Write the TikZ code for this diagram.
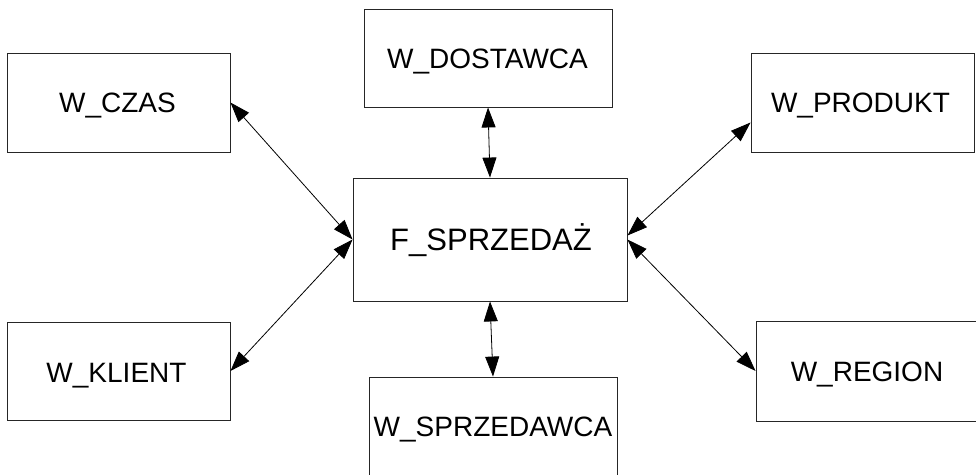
\documentclass[tikz,border=0pt]{standalone}
\usepackage{fontspec}
\setmainfont{Liberation Sans}
\usetikzlibrary{arrows.meta}

\begin{document}
\begin{tikzpicture}[x=1pt,y=-1pt,
  tablebox/.style={draw=black!85, line width=0.9pt, rectangle, inner sep=0pt},
  dimname/.style={font=\fontsize{28}{30}\selectfont, anchor=base, inner sep=0pt},
  factname/.style={font=\fontsize{31}{33}\selectfont, anchor=base, inner sep=0pt},
  link/.style={line width=0.8pt, {Triangle[length=20pt,width=14pt]}-{Triangle[length=20pt,width=14pt]}}]
  \useasboundingbox (0,0) rectangle (976,474);

  % tables
  \node[tablebox, minimum width=223pt, minimum height=99pt]  (czas)       at (118.5,102.5) {};
  \node[tablebox, minimum width=248pt, minimum height=98pt]  (dostawca)   at (488,58) {};
  \node[tablebox, minimum width=223pt, minimum height=99pt]  (produkt)    at (862.5,102.5) {};
  \node[tablebox, minimum width=274pt, minimum height=123pt] (fakt)       at (490,239.5) {};
  \node[tablebox, minimum width=223pt, minimum height=98pt]  (klient)     at (118.5,371) {};
  \node[tablebox, minimum width=248pt, minimum height=100pt] (sprzedawca) at (493,427) {};
  \node[tablebox, minimum width=230pt, minimum height=100pt] (region)     at (871,371) {};

  % table names
  \node[dimname]  (czas-t)       at (117.5,112) {W\_CZAS};
  \node[dimname]  (dostawca-t)   at (487.5,68)  {W\_DOSTAWCA};
  \node[dimname]  (produkt-t)    at (860.5,112) {W\_PRODUKT};
  \node[factname] (fakt-t)       at (491,250)   {F\_SPRZEDAŻ};
  \node[dimname]  (klient-t)     at (116.5,382) {W\_KLIENT};
  \node[dimname]  (sprzedawca-t) at (493,436)   {W\_SPRZEDAWCA};
  \node[dimname]  (region-t)     at (867,381)   {W\_REGION};

  % relations
  \draw[link] (czas.east) -- (fakt.west);
  \draw[link] (klient.east) -- (fakt.west);
  \draw[link] (dostawca.south) -- (fakt.north);
  \draw[link] (fakt.south) -- (sprzedawca.north);
  \draw[link] ([yshift=-20pt]produkt.west) -- ([yshift=4pt]fakt.east);
  \draw[link] (fakt.east) -- (region.west);
\end{tikzpicture}
\end{document}
